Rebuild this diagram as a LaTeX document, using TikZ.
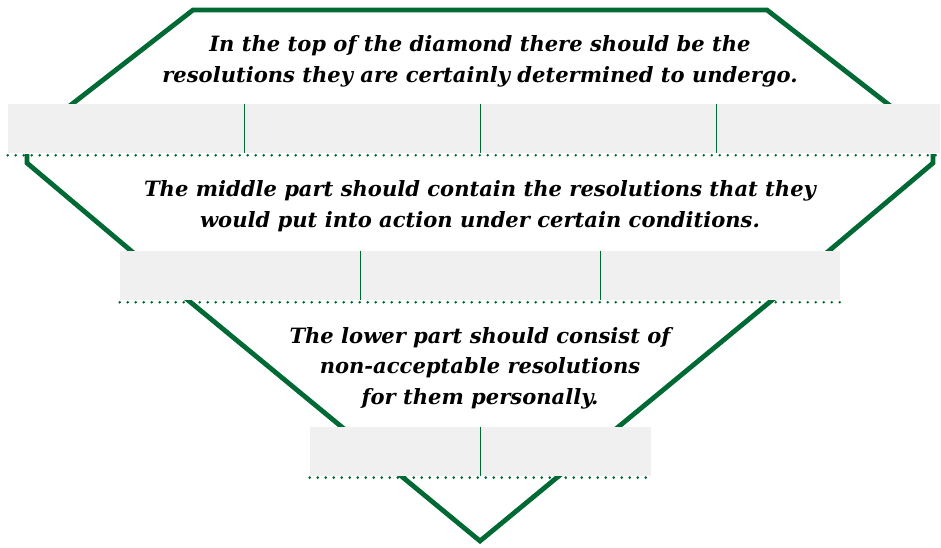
\documentclass[tikz,border=0pt]{standalone}
\usepackage{fontspec}
\setmainfont{DejaVu Serif}
\usepackage{xcolor}
\definecolor{leafgreen}{RGB}{0,105,52}
\definecolor{cellgray}{RGB}{240,240,240}

\begin{document}
\begin{tikzpicture}[x=0.75pt, y=-0.75pt,
        cellnode/.style={rectangle, fill=cellgray, inner sep=0pt, minimum height=36.75pt},
        textnode/.style={align=center, inner sep=0pt, font=\fontsize{15.8}{23}\selectfont\bfseries\itshape},
        outline/.style={draw=leafgreen, line width=3.6pt, line join=miter},
        divider/.style={draw=leafgreen, line width=0.8pt},
        dotline/.style={draw=leafgreen, line width=2.2pt, line cap=round, dash pattern=on 0pt off 6pt}
        ]
            \useasboundingbox (0,0) rectangle (941,547);

            \draw[outline] (67,108) -- (193,10) -- (767,10) -- (893,108);
            \draw[outline] (27,154) -- (27,163) -- (136,255);
            \draw[outline] (933,154) -- (933,163) -- (824,255);
            \draw[outline] (183,296) -- (480,541) -- (777,296);

            \node[cellnode, minimum width=177pt] (A1) at (126,128.5) {};
            \node[cellnode, minimum width=177pt] (A2) at (362,128.5) {};
            \node[cellnode, minimum width=177pt] (A3) at (598,128.5) {};
            \node[cellnode, minimum width=168pt] (A4) at (828,128.5) {};

            \node[cellnode, minimum width=180pt] (B1) at (240,275.5) {};
            \node[cellnode, minimum width=180pt] (B2) at (480,275.5) {};
            \node[cellnode, minimum width=180pt] (B3) at (720,275.5) {};

            \node[cellnode, minimum width=127.9pt] (C1) at (395.25,451.5) {};
            \node[cellnode, minimum width=127.9pt] (C2) at (565.75,451.5) {};

            \draw[divider] (A1.north east) -- (A1.south east);
            \draw[divider] (A2.north east) -- (A2.south east);
            \draw[divider] (A3.north east) -- (A3.south east);
            \draw[divider] (B1.north east) -- (B1.south east);
            \draw[divider] (B2.north east) -- (B2.south east);
            \draw[divider] (C1.north east) -- (C1.south east);

            \draw[dotline] ([yshift=-1.5pt]A1.south west) -- ([yshift=-1.5pt]A4.south east);
            \draw[dotline] ([yshift=-1.5pt]B1.south west) -- ([yshift=-1.5pt]B3.south east);
            \draw[dotline] ([yshift=-1pt]C1.south west) -- ([yshift=-1pt]C2.south east);

            \node[textnode] (T1) at (480,61) {In the top of the diamond there should be the\\resolutions they are certainly determined to undergo.};
            \node[textnode] (T2) at (480,206) {The middle part should contain the resolutions that they\\would put into action under certain conditions.};
            \node[textnode] (T3) at (480,368) {The lower part should consist of\\non-acceptable resolutions\\for them personally.};

        \end{tikzpicture}
\end{document}
